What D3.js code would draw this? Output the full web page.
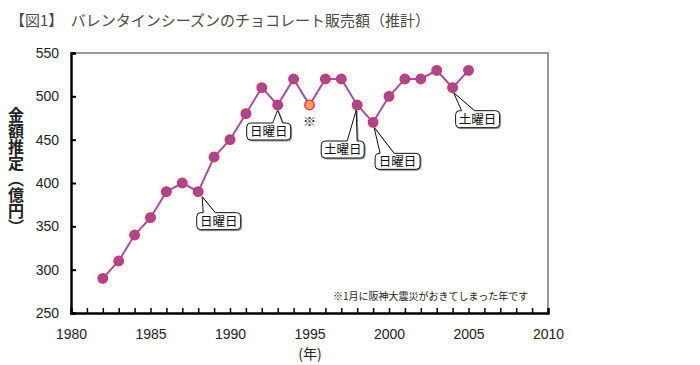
<!DOCTYPE html>
<html><head><meta charset="utf-8">
<script src="https://cdn.jsdelivr.net/npm/d3@7"></script>
<style>
html,body{margin:0;padding:0;background:#fff;}
svg{display:block;font-family:"Noto Sans CJK JP","Liberation Sans",sans-serif;}
</style></head>
<body><svg id="c" width="700" height="365"></svg>
<script>
const years = [1982,1983,1984,1985,1986,1987,1988,1989,1990,1991,1992,1993,1994,1995,1996,1997,1998,1999,2000,2001,2002,2003,2004,2005];
const sales = [290,310,340,360,390,400,390,430,450,480,510,490,520,490,520,520,490,470,500,520,520,530,510,530];
const highlightYear = 1995;
const xTicks = [1980,1985,1990,1995,2000,2005,2010];
const yTicks = [250,300,350,400,450,500,550];
const annYears = [1988,1993,1998,1999,2004];
const annLabels = ["日曜日","日曜日","土曜日","日曜日","土曜日"];
const title = "【図1】\u3000バレンタインシーズンのチョコレート販売額（推計）";
const yLabel = "金額推定（億円）";
const xLabel = "(年)";
const note = "※1月に阪神大震災がおきてしまった年です";

// layout for callouts (box offset from point, pointer base offsets)
const annLayout = [
  {dx:-1.5, dy:21, w:44, h:17, b1:5, b2:17, tx:4, ty:5},
  {dx:-31, dy:18, w:44, h:17, b1:-5, b2:5, tx:0, ty:5},
  {dx:-36, dy:36, w:43, h:17, b1:-10, b2:0, tx:-1, ty:5},
  {dx:2, dy:31, w:45, h:16, b1:7, b2:21, tx:1, ty:5},
  {dx:3, dy:23, w:44, h:17, b1:9, b2:22, tx:1, ty:5}
];

const svg = d3.select("#c");
const L=71, R=548, T=53, B=313;
const x = d3.scaleLinear().domain([1980,2010]).range([L,R]);
const y = d3.scaleLinear().domain([250,550]).range([B,T]);

svg.append("text").attr("x",10).attr("y",26).attr("font-size",15).attr("fill","#4a4a4a")
  .attr("font-weight","normal").text(title);

// frame: top & right gray
svg.append("path").attr("d",`M${L},${T}H${R}V${B}`).attr("fill","none").attr("stroke","#999").attr("stroke-width",2);

// axes
const yAxis = d3.axisLeft(y).tickValues(yTicks).tickSize(-5).tickPadding(12).tickFormat(d3.format("d"));
const gy = svg.append("g").attr("transform",`translate(${L},0)`).call(yAxis);
gy.select(".domain").attr("stroke","#000").attr("stroke-width",2.5);
gy.selectAll(".tick line").attr("stroke","#000").attr("stroke-width",2);
gy.selectAll(".tick text").attr("font-size",14).attr("fill","#222").attr("font-family","Liberation Sans, sans-serif");

const xAxis = d3.axisBottom(x).tickValues(d3.range(1980,2011)).tickSize(-5).tickPadding(16)
  .tickFormat(d=> xTicks.includes(d)? String(d) : "");
const gx = svg.append("g").attr("transform",`translate(0,${B})`).call(xAxis);
gx.select(".domain").attr("stroke","#000").attr("stroke-width",2.5);
gx.selectAll(".tick line").attr("stroke","#000").attr("stroke-width",1.5);
gx.selectAll(".tick text").attr("font-size",14).attr("fill","#222").attr("font-family","Liberation Sans, sans-serif");

svg.append("text").attr("x",310).attr("y",359).attr("text-anchor","middle").attr("font-size",14).attr("fill","#222").text(xLabel);

svg.append("text").attr("x",16).attr("y",107).attr("font-size",16).attr("font-weight","bold").attr("fill","#222")
  .style("writing-mode","vertical-rl").text(yLabel);

// line
const data = years.map((yr,i)=>({year:yr,value:sales[i]}));
svg.append("path").datum(data).attr("fill","none").attr("stroke","#a24fa4").attr("stroke-width",2)
  .attr("d",d3.line().x(d=>x(d.year)).y(d=>y(d.value)));

// callouts
annYears.forEach((yr,i)=>{
  const v = sales[years.indexOf(yr)];
  const px = x(yr), py = y(v), a = annLayout[i];
  const x0 = px+a.dx, y0 = py+a.dy, w=a.w, h=a.h, r=4;
  const p = `M${x0+r},${y0}L${px+a.b1},${y0}L${px+a.tx},${py+a.ty}L${px+a.b2},${y0}L${x0+w-r},${y0}`+
    `Q${x0+w},${y0} ${x0+w},${y0+r}L${x0+w},${y0+h-r}Q${x0+w},${y0+h} ${x0+w-r},${y0+h}`+
    `L${x0+r},${y0+h}Q${x0},${y0+h} ${x0},${y0+h-r}L${x0},${y0+r}Q${x0},${y0} ${x0+r},${y0}Z`;
  svg.append("path").attr("d",p).attr("transform","translate(1,1)").attr("fill","#999").attr("stroke","#999").attr("stroke-width",1);
  svg.append("path").attr("d",p).attr("fill","#fff").attr("stroke","#111").attr("stroke-width",1);
  svg.append("text").attr("x",x0+w/2).attr("y",y0+h/2+4.5).attr("text-anchor","middle").attr("font-size",12.5).attr("fill","#111").text(annLabels[i]);
});

// markers
svg.selectAll("circle.pt").data(data).enter().append("circle").attr("class","pt")
  .attr("cx",d=>x(d.year)).attr("cy",d=>y(d.value)).attr("r",4.8)
  .attr("fill",d=>d.year===highlightYear?"#f4a05c":"#9c4c9c").attr("stroke","#ee2d44").attr("stroke-width",1.3);

svg.append("text").attr("x",x(highlightYear)).attr("y",y(sales[years.indexOf(highlightYear)])+21)
  .attr("text-anchor","middle").attr("font-size",13).attr("fill","#222").text("※");

svg.append("text").attr("x",333).attr("y",300).attr("font-size",10).attr("fill","#222").text(note);
</script></body></html>
